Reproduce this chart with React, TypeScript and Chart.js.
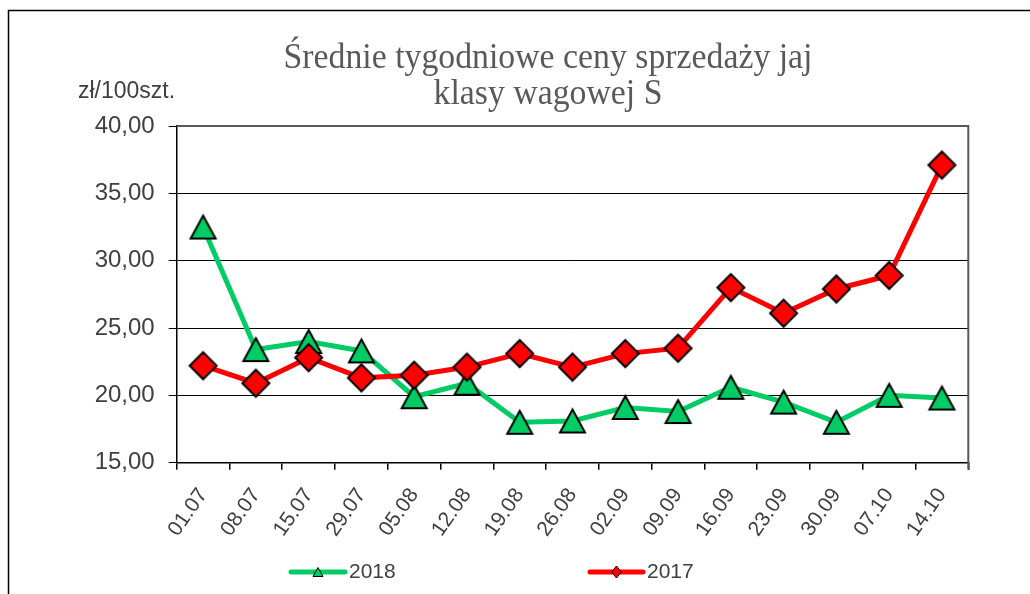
import React, { useEffect, useRef } from 'react';
import { Chart, registerables } from 'chart.js';

Chart.register(...registerables);

const categories = ['01.07', '08.07', '15.07', '29.07', '05.08', '12.08', '19.08', '26.08', '02.09', '09.09', '16.09', '23.09', '30.09', '07.10', '14.10'];
const series2018 = [32.5, 23.4, 24.0, 23.3, 19.9, 20.9, 18.0, 18.1, 19.1, 18.8, 20.6, 19.5, 18.0, 20.0, 19.8];
const series2017 = [22.2, 20.9, 22.8, 21.3, 21.5, 22.1, 23.1, 22.1, 23.1, 23.5, 28.0, 26.1, 27.9, 28.9, 37.1];
const seriesLabels = ['2018', '2017'];
const titleLines = ['Średnie tygodniowe ceny sprzedaży jaj', 'klasy wagowej S'];
const unitLabel = 'zł/100szt.';
const yMin = 15;
const yMax = 40;
const yStep = 5;

const GREEN = '#00cc66';
const RED = '#ff0000';
const SANS = '"Liberation Sans", Arial, sans-serif';
const SERIF = '"Liberation Serif", "Times New Roman", serif';
const TEXT = '#404040';

function drawShape(ctx: CanvasRenderingContext2D, kind: string, cx: number, cy: number, w: number, h: number, fill: string, lw: number) {
  ctx.beginPath();
  if (kind === 'triangle') {
    ctx.moveTo(cx, cy - h / 2);
    ctx.lineTo(cx + w / 2, cy + h / 2);
    ctx.lineTo(cx - w / 2, cy + h / 2);
  } else {
    ctx.moveTo(cx, cy - h / 2);
    ctx.lineTo(cx + w / 2, cy);
    ctx.lineTo(cx, cy + h / 2);
    ctx.lineTo(cx - w / 2, cy);
  }
  ctx.closePath();
  ctx.fillStyle = fill;
  ctx.fill();
  ctx.lineWidth = lw;
  ctx.strokeStyle = '#000';
  ctx.lineJoin = 'miter';
  ctx.stroke();
}

function makeMarker(kind: string, w: number, h: number, fill: string, lw: number) {
  const c = document.createElement('canvas');
  const pad = lw + 2;
  c.width = Math.ceil(w + pad * 2);
  c.height = Math.ceil(h + pad * 2);
  const ctx = c.getContext('2d') as CanvasRenderingContext2D;
  drawShape(ctx, kind, c.width / 2, c.height / 2, w, h, fill, lw);
  return c;
}

const decorPlugin = {
  id: 'decor',
  beforeDatasetsDraw(chart: any) {
    const ctx = chart.ctx as CanvasRenderingContext2D;
    const { left, right, top, bottom } = chart.chartArea;
    ctx.save();
    ctx.strokeStyle = '#595959';
    ctx.lineWidth = 2;
    ctx.beginPath();
    ctx.moveTo(left, top);
    ctx.lineTo(right, top);
    ctx.lineTo(right, bottom + 7);
    ctx.stroke();
    ctx.restore();
  },
  afterDraw(chart: any) {
    const ctx = chart.ctx as CanvasRenderingContext2D;
    ctx.save();
    // outer frame
    ctx.strokeStyle = '#000';
    ctx.lineWidth = 1.5;
    ctx.beginPath();
    ctx.moveTo(8.5, 594);
    ctx.lineTo(8.5, 10.5);
    ctx.lineTo(1030, 10.5);
    ctx.stroke();

    // title
    ctx.fillStyle = '#595959';
    ctx.font = '35px ' + SERIF;
    ctx.textAlign = 'center';
    ctx.textBaseline = 'alphabetic';
    const w1 = ctx.measureText(titleLines[0]).width;
    const sx = 529 / w1;
    const titleY = [68, 104];
    titleLines.forEach((t, i) => {
      ctx.save();
      ctx.translate(548, titleY[i]);
      ctx.scale(sx, 1);
      ctx.fillText(t, 0, 0);
      ctx.restore();
    });

    // unit label
    ctx.fillStyle = TEXT;
    ctx.font = '23px ' + SANS;
    ctx.textAlign = 'left';
    ctx.textBaseline = 'middle';
    ctx.fillText(unitLabel, 78, 92);

    // legend
    const items = [
      { x0: 291, x1: 345, color: GREEN, kind: 'triangle', mw: 10, mh: 9, label: chart.data.datasets[1].label },
      { x0: 590, x1: 643, color: RED, kind: 'diamond', mw: 10, mh: 12, label: chart.data.datasets[0].label },
    ];
    const ly = 572;
    items.forEach((it) => {
      ctx.strokeStyle = it.color;
      ctx.lineWidth = 5;
      ctx.lineCap = 'round';
      ctx.beginPath();
      ctx.moveTo(it.x0, ly);
      ctx.lineTo(it.x1, ly);
      ctx.stroke();
      ctx.lineCap = 'butt';
      drawShape(ctx, it.kind, (it.x0 + it.x1) / 2, ly, it.mw, it.mh, it.color, 1);
      ctx.fillStyle = TEXT;
      ctx.font = '21px ' + SANS;
      ctx.textAlign = 'left';
      ctx.textBaseline = 'middle';
      ctx.fillText(it.label, it.x1 + 4, ly);
    });
    ctx.restore();
  },
};

export default function App() {
  const ref = useRef<HTMLCanvasElement | null>(null);

  useEffect(() => {
    if (!ref.current) return;
    const tri = makeMarker('triangle', 25, 23, GREEN, 2);
    const dia = makeMarker('diamond', 27, 27, RED, 2);
    const chart = new Chart(ref.current, {
      type: 'line',
      data: {
        labels: categories,
        datasets: [
          {
            label: seriesLabels[1],
            data: series2017,
            borderColor: RED,
            backgroundColor: RED,
            borderWidth: 5,
            pointStyle: dia as any,
            pointRadius: 14,
            tension: 0,
            order: 0,
          },
          {
            label: seriesLabels[0],
            data: series2018,
            borderColor: GREEN,
            backgroundColor: GREEN,
            borderWidth: 5,
            pointStyle: tri as any,
            pointRadius: 14,
            tension: 0,
            order: 1,
          },
        ],
      },
      options: {
        responsive: false,
        animation: false,
        layout: { padding: { left: 56.7, right: 61.7, top: 126, bottom: 21.3 } },
        plugins: {
          legend: { display: false },
          title: { display: false },
          tooltip: { enabled: false },
        },
        scales: {
          x: {
            offset: true,
            afterFit: (s: any) => {
              s.height = 110;
            },
            grid: { offset: true, drawOnChartArea: false, tickLength: 7, tickColor: '#000', color: '#000', lineWidth: 1.5 },
            border: { color: '#000', width: 1.5 },
            ticks: {
              autoSkip: false,
              minRotation: 55,
              maxRotation: 55,
              padding: 14,
              color: TEXT,
              font: { family: SANS, size: 21 },
            },
          },
          y: {
            min: yMin,
            max: yMax,
            afterFit: (s: any) => {
              s.width = 120;
            },
            ticks: {
              stepSize: yStep,
              padding: 14,
              color: TEXT,
              font: { family: SANS, size: 24 },
              callback: (v: any) => Number(v).toFixed(2).replace('.', ','),
            },
            grid: { color: '#000', lineWidth: 1, tickLength: 8, tickColor: '#000' },
            border: { color: '#000', width: 1.5 },
          },
        },
      },
      plugins: [decorPlugin],
    });
    return () => chart.destroy();
  }, []);

  return (
    <div style={{ position: 'fixed', left: 0, top: 0, width: 1030, height: 594, background: '#fff' }}>
      <canvas ref={ref} width={1030} height={594} />
    </div>
  );
}
